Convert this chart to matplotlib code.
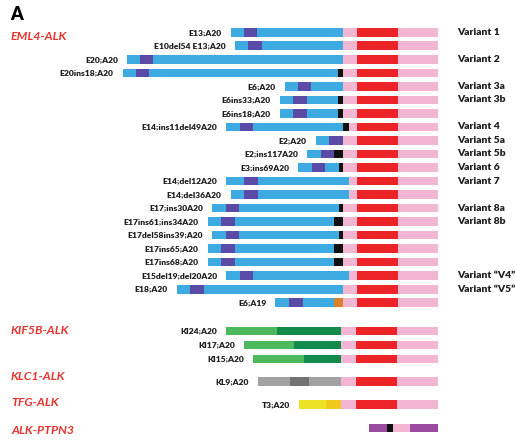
import matplotlib.pyplot as plt

plt.rcParams['font.family'] = ['Lato', 'DejaVu Sans']

# EML4-ALK variants (x positions in chart units)
eml4_labels = ['E13;A20', 'E10del54 E13;A20', 'E20;A20', 'E20ins18;A20', 'E6;A20',
               'E6ins33;A20', 'E6ins18;A20', 'E14;ins11del49A20', 'E2;A20', 'E2;ins117A20',
               'E3;ins69A20', 'E14;del12A20', 'E14;del36A20', 'E17;ins30A20',
               'E17ins61;ins34A20', 'E17del58ins39;A20', 'E17ins65;A20', 'E17ins68;A20',
               'E15del19;del20A20', 'E18;A20', 'E6;A19']
eml4_start = [230.7, 235, 127.3, 122.7, 284.7, 280, 280, 226, 315.7, 307.3, 298, 226, 230.7,
              212.3, 207.7, 212.3, 207.7, 207.7, 226, 176.7, 275.3]
purple_start = [244, 248.3, 140, 136, 298, 293.3, 293.3, 240, 329.3, 320.7, 311.7, 244.3, 244.3,
                226, 221.3, 226, 221.3, 221.3, 240, 190, 289]
purple_end = [257.3, 262.3, 153.3, 149.3, 311.3, 307.3, 307.3, 253.3, 342.7, 334, 325, 257.7, 257.7,
              239.3, 235.3, 239.3, 235.3, 235.3, 253.3, 204, 302.7]
eml4_end = [342.7, 342.7, 342.7, 342.7, 342.7, 342.7, 342.7, 348.7, 342.7, 342.7, 342.7, 348.7, 348.7,
            342.7, 342.7, 342.7, 342.7, 342.7, 348.7, 342.7, 342.7]
insert_width = [0, 0, 0, 4.4, 0, 4.4, 4.4, 5.4, 0, 8.7, 4, 0, 0, 4, 8.7, 4, 8.7, 8.7, 0, 0, 8.7]
insert_kind = ['', '', '', 'ins', '', 'ins', 'ins', 'ins', '', 'ins', 'ins', '', '', 'ins', 'ins',
               'ins', 'ins', 'ins', '', '', 'e6a19']
variant_names = {0: 'Variant 1', 2: 'Variant 2', 4: 'Variant 3a', 5: 'Variant 3b', 7: 'Variant 4',
                 8: 'Variant 5a', 9: 'Variant 5b', 10: 'Variant 6', 11: 'Variant 7',
                 13: 'Variant 8a', 14: 'Variant 8b', 18: 'Variant \u201cV4\u201d',
                 19: 'Variant \u201cV5\u201d'}

# other partners: segments (start, end, colour key)
partner_labels = ['KI24;A20', 'KI17;A20', 'KI15;A20', 'KL9;A20', 'T3;A20']
partner_segments = [
    [(226, 276.7, 'lgreen'), (276.7, 340.7, 'dgreen')],
    [(244.3, 294, 'lgreen'), (294, 340.7, 'dgreen')],
    [(253.3, 304, 'lgreen'), (304, 340.7, 'dgreen')],
    [(257.7, 290, 'gray'), (290, 308.7, 'dgray'), (308.7, 340.7, 'gray')],
    [(299.3, 326, 'yellow'), (326, 340.7, 'gold')],
]
ptpn3_segments = [(369, 387.3, 'violet'), (387.3, 392.7, 'black'), (392.7, 410.3, 'pink'),
                  (410.3, 438.3, 'violet')]

alk_red = (357.3, 397.7)
alk_red_partner = (355.5, 396.7)
alk_end = 438.3

colors = {'blue': '#3daae2', 'purple': '#5a4ba6', 'black': '#111111', 'pink': '#f2b5d2',
          'red': '#ec2327', 'orange': '#d9822b', 'lgreen': '#4db85c', 'dgreen': '#138b4b',
          'gray': '#a2a2a2', 'dgray': '#727272', 'yellow': '#ebe324', 'gold': '#f1c91b',
          'violet': '#9b4b9f'}
gene_red = '#e8332f'
txt = '#1e1e1e'

fig = plt.figure(figsize=(5.15, 4.45), dpi=100)
ax = fig.add_axes([0, 0, 1, 1])
ax.set_xlim(0, 515)
ax.set_ylim(445, 0)
ax.axis('off')

h = 8.7


def seg(y, x0, x1, key):
    ax.barh(y, x1 - x0, left=x0, height=h, color=colors[key], linewidth=0)


def alk(y, junction, red):
    seg(y, junction, red[0], 'pink')
    seg(y, red[0], red[1], 'red')
    seg(y, red[1], alk_end, 'pink')


row_y = [32.3 + 13.52 * i for i in range(len(eml4_labels))]
for i, y in enumerate(row_y):
    blue_end = eml4_end[i] - insert_width[i]
    seg(y, eml4_start[i], purple_start[i], 'blue')
    seg(y, purple_start[i], purple_end[i], 'purple')
    if purple_end[i] < blue_end:
        seg(y, purple_end[i], blue_end, 'blue')
    if insert_width[i]:
        seg(y, blue_end, eml4_end[i], 'orange' if insert_kind[i] == 'e6a19' else 'black')
    alk(y, eml4_end[i], alk_red)
    ax.text(eml4_start[i] - 9, y, eml4_labels[i], ha='right', va='center',
            fontsize=6.1, fontweight='heavy', color=txt)
    if i in variant_names:
        ax.text(457, y, variant_names[i], ha='left', va='center',
                fontsize=7.4, fontweight='heavy', color=txt)

partner_y = [331, 345, 359, 381.7, 404.7]
for lab, segs, y in zip(partner_labels, partner_segments, partner_y):
    for x0, x1, key in segs:
        seg(y, x0, x1, key)
    alk(y, segs[-1][1], alk_red_partner)
    ax.text(segs[0][0] - 9, y, lab, ha='right', va='center',
            fontsize=6.1, fontweight='heavy', color=txt)

for x0, x1, key in ptpn3_segments:
    seg(428, x0, x1, key)

gene_names = ['EML4-ALK', 'KIF5B-ALK', 'KLC1-ALK', 'TFG-ALK', 'ALK-PTPN3']
gene_y = [36, 330, 376, 403, 431]
for name, y in zip(gene_names, gene_y):
    ax.text(11, y, name, ha='left', va='center', fontsize=8.8, fontweight='bold',
            fontstyle='italic', color=gene_red)

ax.text(10, 14, 'A', ha='left', va='center', fontsize=13, fontweight='heavy', color='black')

fig.savefig('out.png', dpi=100)
